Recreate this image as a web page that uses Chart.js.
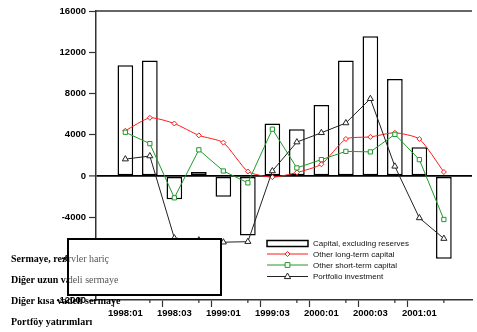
<!DOCTYPE html>
<html>
<head>
<meta charset="utf-8">
<script src="https://cdn.jsdelivr.net/npm/chart.js@4.4.1/dist/chart.umd.min.js"></script>
<style>
  html, body { margin: 0; padding: 0; background: #fff; }
  #wrap { position: relative; width: 477px; height: 332px; overflow: hidden; }
  #chart { position: absolute; left: 0; top: 0; }
  .tr { position: absolute; left: 11px; font-family: "Liberation Serif", "Times New Roman", serif;
        font-size: 10px; line-height: 12px; white-space: nowrap; }
  .under { font-weight: bold; color: #000; }
  .over { color: #555; }
  #box { position: absolute; left: 67px; top: 238px; width: 151px; height: 54px;
         border: 2px solid #000; background: #fff; }
  #trOver { position: absolute; left: 0; top: 0; width: 477px; height: 332px;
            clip-path: inset(240px 257px 38px 69px); }
</style>
</head>
<body>
<div id="wrap">
  <canvas id="chart" width="477" height="332"></canvas>
  <div id="trUnder"></div>
  <div id="box"></div>
  <div id="trOver"></div>
</div>
<script>
// Quarterly capital flows, 1998:01 - 2001:02
const quarters = ['1998:01','1998:02','1998:03','1998:04','1999:01','1999:02','1999:03',
                  '1999:04','2000:01','2000:02','2000:03','2000:04','2001:01','2001:02'];
const capitalExReserves = [10750, 11200, -2250, 400, -2000, -5750, 5100, 4550, 6900, 11200, 13550, 9400, 2800, -8000];
const otherLongTerm     = [4400, 5650, 5100, 3950, 3250, 450, -100, 350, 1150, 3600, 3800, 4200, 3600, 400];
const otherShortTerm    = [4250, 3150, -2100, 2550, 500, -650, 4550, 800, 1600, 2400, 2350, 4050, 1600, -4200];
const portfolio         = [1650, 1950, -6000, -6200, -6400, -6350, 500, 3300, 4200, 5150, 7500, 950, -4050, -6050];
const yTicks = [16000, 12000, 8000, 4000, 0, -4000, -8000, -12000];
const seriesNames = ['Capital, excluding reserves', 'Other long-term capital',
                     'Other short-term capital', 'Portfolio investment'];
const turkishNames = ['Sermaye, rezervler hariç', 'Diğer uzun vadeli sermaye',
                      'Diğer kısa vadeli sermaye', 'Portföy yatırımları'];

// Turkish captions: a bold layer beneath the white panel and a light layer showing inside it
const rowTops = [253, 274, 295, 316];
for (const [id, cls] of [['trUnder', 'under'], ['trOver', 'over']]) {
  const host = document.getElementById(id);
  turkishNames.forEach((t, i) => {
    const d = document.createElement('div');
    d.className = 'tr ' + cls;
    d.style.top = rowTops[i] + 'px';
    d.textContent = t;
    host.appendChild(d);
  });
}

const toPoints = arr => arr.map((v, i) => ({ x: i, y: v }));
const tickFont = { family: '"Liberation Sans", Arial, sans-serif', size: 9.5, weight: 'bold' };

function markerPath(ctx, style, x, y, r) {
  ctx.beginPath();
  if (style === 'rectRot') {
    ctx.moveTo(x, y - r); ctx.lineTo(x + r, y); ctx.lineTo(x, y + r); ctx.lineTo(x - r, y); ctx.closePath();
  } else if (style === 'rect') {
    ctx.rect(x - r * 0.8, y - r * 0.8, r * 1.6, r * 1.6);
  } else {
    ctx.moveTo(x, y - r); ctx.lineTo(x + r * 0.9, y + r * 0.6); ctx.lineTo(x - r * 0.9, y + r * 0.6); ctx.closePath();
  }
}

// Frame line on top, short minor ticks on the time axis, and the series key
const decorations = {
  id: 'decorations',
  afterDraw(chart) {
    const { ctx, chartArea: a, scales } = chart;
    ctx.save();
    ctx.strokeStyle = '#333';
    ctx.lineWidth = 1.5;
    ctx.beginPath();
    ctx.moveTo(a.left, a.top); ctx.lineTo(a.right, a.top);
    ctx.stroke();

    ctx.lineWidth = 1.2;
    quarters.forEach((q, i) => {
      if (i % 2 === 1) {
        const px = scales.x.getPixelForValue(i);
        ctx.beginPath(); ctx.moveTo(px, a.bottom); ctx.lineTo(px, a.bottom + 3); ctx.stroke();
      }
    });

    // key
    const x0 = a.left + 171, w = 41, rows = [a.top + 232.5, a.top + 243, a.top + 254, a.top + 265.5];
    ctx.font = '8px "Liberation Sans", Arial, sans-serif';
    ctx.textBaseline = 'middle';
    chart.data.datasets.forEach((ds, i) => {
      const y = rows[i];
      if (ds.type === 'bar') {
        ctx.fillStyle = '#fff'; ctx.strokeStyle = '#000'; ctx.lineWidth = 1.5;
        ctx.fillRect(x0, y - 3, w, 6); ctx.strokeRect(x0, y - 3, w, 6);
      } else {
        ctx.strokeStyle = ds.borderColor; ctx.lineWidth = ds.borderWidth;
        ctx.beginPath(); ctx.moveTo(x0, y); ctx.lineTo(x0 + w, y); ctx.stroke();
        markerPath(ctx, ds.pointStyle, x0 + w / 2, y, ds.pointRadius);
        ctx.fillStyle = '#fff'; ctx.fill(); ctx.stroke();
      }
      ctx.fillStyle = '#111';
      ctx.fillText(ds.label, x0 + w + 5, y + 0.5);
    });
    ctx.restore();
  }
};

new Chart(document.getElementById('chart'), {
  type: 'bar',
  data: {
    datasets: [
      { type: 'bar', label: seriesNames[0], data: toPoints(capitalExReserves),
        backgroundColor: '#fff', borderColor: '#000', borderWidth: 1.5, borderSkipped: false,
        barPercentage: 0.8, categoryPercentage: 0.8, order: 3 },
      { type: 'line', label: seriesNames[1], data: toPoints(otherLongTerm),
        borderColor: '#ff1a1a', borderWidth: 1, tension: 0.2, fill: false,
        pointStyle: 'rectRot', pointRadius: 2.5, pointBackgroundColor: '#fff',
        pointBorderColor: '#ff1a1a', pointBorderWidth: 1, order: 2 },
      { type: 'line', label: seriesNames[2], data: toPoints(otherShortTerm),
        borderColor: '#1f9a2a', borderWidth: 1, tension: 0, fill: false,
        pointStyle: 'rect', pointRadius: 3, pointBackgroundColor: '#fff',
        pointBorderColor: '#1f9a2a', pointBorderWidth: 1, order: 1 },
      { type: 'line', label: seriesNames[3], data: toPoints(portfolio),
        borderColor: '#222', borderWidth: 1, tension: 0, fill: false,
        pointStyle: 'triangle', pointRadius: 3.5, pointBackgroundColor: '#fff',
        pointBorderColor: '#222', pointBorderWidth: 1, order: 0 }
    ]
  },
  options: {
    responsive: false,
    animation: false,
    devicePixelRatio: 1,
    layout: { padding: { top: 11, right: 0, left: 0, bottom: 0 } },
    plugins: { legend: { display: false }, tooltip: { enabled: false } },
    scales: {
      x: {
        type: 'linear', min: -0.65, max: 13.6,
        afterBuildTicks: s => { s.ticks = quarters.map((q, i) => ({ value: i })); },
        afterFit: s => { s.height = 32; },
        ticks: { autoSkip: false, maxRotation: 0, padding: 1, font: tickFont, color: '#000',
                 callback: v => (Number.isInteger(v) && v % 2 === 0) ? quarters[v] : '' },
        grid: { drawOnChartArea: false, tickLength: 7, tickWidth: 1.2,
                tickColor: c => (c.tick && c.tick.value % 2 === 0) ? '#333' : 'rgba(0,0,0,0)' },
        border: { color: '#333', width: 1.5 }
      },
      y: {
        min: -12000, max: 16000,
        afterBuildTicks: s => { s.ticks = yTicks.map(v => ({ value: v })); },
        afterFit: s => { s.width = 96; },
        ticks: { padding: 3, font: tickFont, color: '#000', callback: v => String(v) },
        grid: { tickLength: 7, tickWidth: 1.2, tickColor: '#333',
                color: c => (c.tick && c.tick.value === 0) ? '#000' : 'rgba(0,0,0,0)',
                lineWidth: c => (c.tick && c.tick.value === 0) ? 1.8 : 1 },
        border: { color: '#333', width: 1.5 }
      }
    }
  },
  plugins: [decorations]
});
</script>
</body>
</html>
